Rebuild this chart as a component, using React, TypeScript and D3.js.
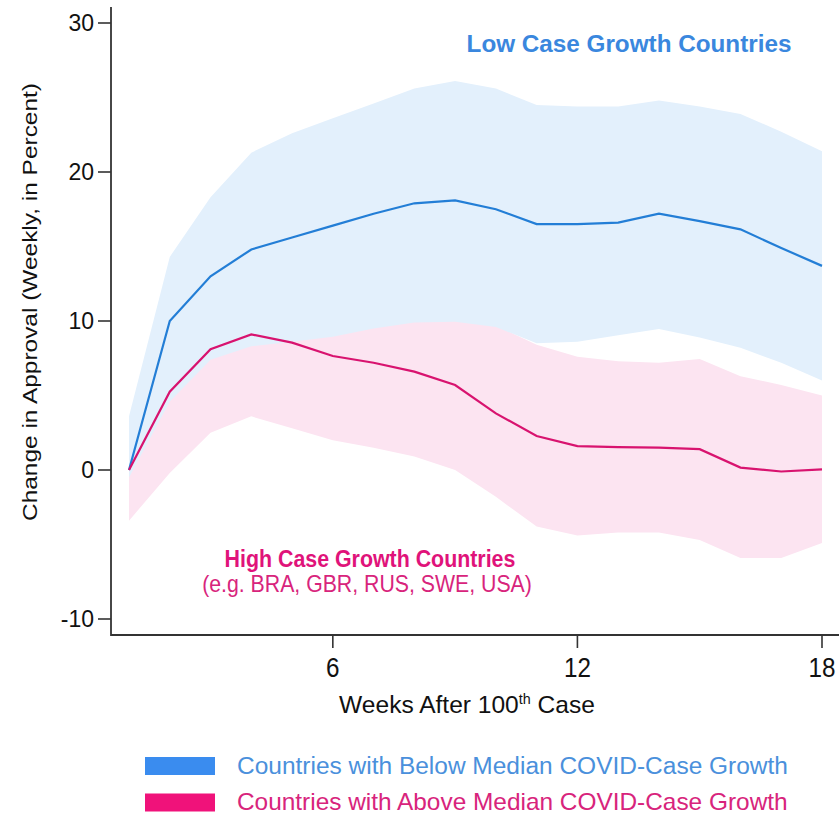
import React, { useEffect, useRef } from "react";
import * as d3 from "d3";

const weeks = [1, 2, 3, 4, 5, 6, 7, 8, 9, 10, 11, 12, 13, 14, 15, 16, 17, 18];

// low case growth (below median)
const lowEst = [0, 10.0, 13.0, 14.8, 15.6, 16.4, 17.2, 17.9, 18.1, 17.5, 16.5, 16.5, 16.6, 17.2, 16.7, 16.15, 14.9, 13.7];
const lowUpper = [3.6, 14.3, 18.3, 21.3, 22.6, 23.6, 24.6, 25.6, 26.1, 25.6, 24.5, 24.4, 24.4, 24.8, 24.4, 23.9, 22.7, 21.4];
const lowLower = [-0.5, 4.6, 7.4, 8.3, 8.6, 8.95, 9.5, 9.9, 9.95, 9.6, 8.5, 8.6, 9.05, 9.46, 8.9, 8.2, 7.2, 6.0];

// high case growth (above median)
const highEst = [0, 5.26, 8.1, 9.1, 8.55, 7.65, 7.2, 6.6, 5.7, 3.8, 2.28, 1.6, 1.54, 1.5, 1.4, 0.16, -0.1, 0.04];
const highUpper = [3.0, 9.5, 12.5, 13.5, 13.0, 12.0, 11.5, 11.0, 10.5, 9.7, 8.4, 7.6, 7.3, 7.2, 7.45, 6.3, 5.7, 5.0];
const highLower = [-3.4, -0.2, 2.5, 3.6, 2.8, 2.0, 1.5, 0.9, 0.0, -1.8, -3.8, -4.4, -4.2, -4.2, -4.7, -5.9, -5.9, -4.9];

const yTicks = [-10, 0, 10, 20, 30];
const xTicks = [6, 12, 18];

const legendItems = [
  { label: "Countries with Below Median COVID-Case Growth", color: "#3a8cef", text: "#4a90dc" },
  { label: "Countries with Above Median COVID-Case Growth", color: "#f0127a", text: "#d8247c" },
];

const W = 839;
const H = 814;
const FONT = "'Liberation Sans', Arial, sans-serif";
const NARROW = "'Liberation Sans Narrow', 'Arial Narrow', 'Liberation Sans', Arial, sans-serif";

const App: React.FC = () => {
  const ref = useRef<SVGSVGElement | null>(null);

  useEffect(() => {
    const svg = d3.select(ref.current);
    svg.selectAll("*").remove();

    const x = d3.scaleLinear().domain([1, 18]).range([129, 822]);
    const y = d3.scaleLinear().domain([0, 30]).range([470, 23]);
    const axisLeft = 111;
    const axisBottom = 635;

    // squeeze/stretch a text horizontally to a target width around its anchor
    const fit = (t: d3.Selection<SVGTextElement, unknown, null, undefined>, cx: number, width: number) => {
      const w = (t.node() as SVGTextElement).getBBox().width;
      if (w > 0) t.attr("transform", `translate(${cx},0) scale(${width / w},1) translate(${-cx},0)`);
    };

    const area = (lo: number[], hi: number[]) =>
      d3
        .area<number>()
        .x((d) => x(d))
        .y0((_, i) => y(lo[i]))
        .y1((_, i) => y(hi[i]))(weeks);

    const line = (vals: number[]) =>
      d3
        .line<number>()
        .x((d) => x(d))
        .y((_, i) => y(vals[i]))(weeks);

    svg.append("path").attr("d", area(highLower, highUpper)!).attr("fill", "#fce4f1");
    svg.append("path").attr("d", area(lowLower, lowUpper)!).attr("fill", "#e3f0fc");
    svg.append("path").attr("d", line(lowEst)!).attr("fill", "none").attr("stroke", "#237ed6").attr("stroke-width", 2.2);
    svg.append("path").attr("d", line(highEst)!).attr("fill", "none").attr("stroke", "#d8136f").attr("stroke-width", 2.2);

    // axes
    svg.append("line").attr("x1", axisLeft).attr("x2", axisLeft).attr("y1", 7).attr("y2", axisBottom + 1)
      .attr("stroke", "#333").attr("stroke-width", 1.8);
    svg.append("line").attr("x1", axisLeft).attr("x2", W).attr("y1", axisBottom).attr("y2", axisBottom)
      .attr("stroke", "#333").attr("stroke-width", 1.8);

    yTicks.forEach((v) => {
      svg.append("line").attr("x1", axisLeft - 13).attr("x2", axisLeft).attr("y1", y(v)).attr("y2", y(v))
        .attr("stroke", "#333").attr("stroke-width", 1.6);
      svg.append("text").attr("x", 94).attr("y", y(v) + 8).attr("text-anchor", "end")
        .attr("font-family", FONT).attr("font-size", 23).attr("fill", "#111").text(String(v));
    });

    xTicks.forEach((v) => {
      svg.append("line").attr("x1", x(v)).attr("x2", x(v)).attr("y1", axisBottom).attr("y2", axisBottom + 13)
        .attr("stroke", "#333").attr("stroke-width", 1.6);
      const t = svg.append("text").attr("x", x(v)).attr("y", 677).attr("text-anchor", "middle")
        .attr("font-family", NARROW).attr("font-size", 27).attr("fill", "#111").text(String(v));
      fit(t, x(v), String(v).length * 13.5);
    });

    // axis titles
    svg.append("text")
      .attr("transform", "translate(37,302) rotate(-90)")
      .attr("text-anchor", "middle").attr("font-family", FONT).attr("font-size", 20).attr("fill", "#111")
      .attr("textLength", 438).attr("lengthAdjust", "spacingAndGlyphs")
      .text("Change in Approval (Weekly, in Percent)");

    const xt = svg.append("text").attr("x", 467).attr("y", 713).attr("text-anchor", "middle")
      .attr("font-family", NARROW).attr("font-size", 24).attr("fill", "#111");
    xt.append("tspan").text("Weeks After 100");
    xt.append("tspan").attr("font-size", 14).attr("dy", -9).text("th");
    xt.append("tspan").attr("dy", 9).text(" Case");
    fit(xt, 467, 256);

    // annotations
    const lowT = svg.append("text").attr("x", 629).attr("y", 52).attr("text-anchor", "middle")
      .attr("font-family", FONT).attr("font-weight", "bold").attr("font-size", 24).attr("fill", "#3a87de")
      .text("Low Case Growth Countries");
    fit(lowT, 629, 325);

    const highT = svg.append("text").attr("x", 370).attr("y", 567).attr("text-anchor", "middle")
      .attr("font-family", FONT).attr("font-weight", "bold").attr("font-size", 23).attr("fill", "#e0137a")
      .text("High Case Growth Countries");
    fit(highT, 370, 291);

    const egT = svg.append("text").attr("x", 367).attr("y", 592).attr("text-anchor", "middle")
      .attr("font-family", FONT).attr("font-size", 23).attr("fill", "#d8247c")
      .text("(e.g. BRA, GBR, RUS,  SWE, USA)");
    fit(egT, 367, 330);

    // legend
    legendItems.forEach((d, i) => {
      const yy = 757 + i * 36.5;
      svg.append("rect").attr("x", 145).attr("y", yy).attr("width", 70).attr("height", 18).attr("fill", d.color);
      const t = svg.append("text").attr("x", 237).attr("y", yy + 17).attr("font-family", NARROW)
        .attr("font-size", 23).attr("fill", d.text).text(d.label);
      fit(t, 237, 551);
    });
  }, []);

  return (
    <svg
      ref={ref}
      width={W}
      height={H}
      style={{ position: "absolute", left: 0, top: 0, background: "#fff" }}
    />
  );
};

export default App;
